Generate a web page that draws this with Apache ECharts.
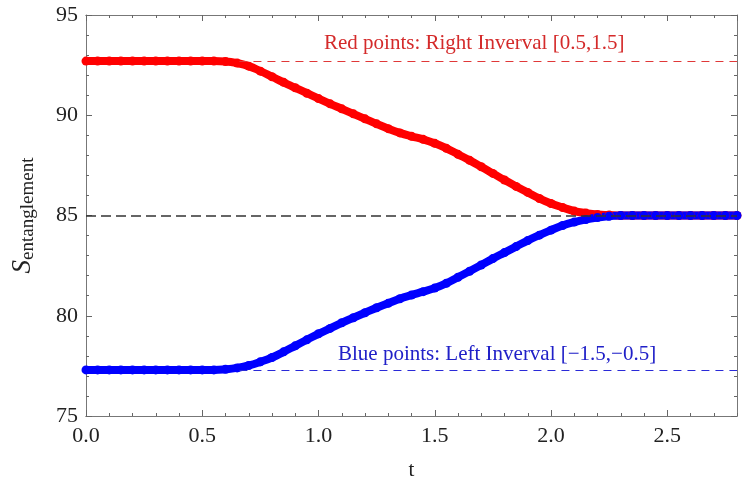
<!DOCTYPE html>
<html>
<head>
<meta charset="utf-8">
<script src="https://cdn.jsdelivr.net/npm/echarts@6/dist/echarts.min.js"></script>
<style>html,body{margin:0;padding:0;background:#fff}#c{width:744px;height:479px}</style>
</head>
<body>
<div id="c"></div>
<script>
const tValues = [0,0.05,0.1,0.15,0.2,0.25,0.3,0.35,0.4,0.45,0.5,0.55,0.6,0.65,0.7,0.75,0.8,0.85,0.9,0.95,
  1.0,1.05,1.1,1.15,1.2,1.25,1.3,1.35,1.4,1.45,1.5,1.55,1.6,1.65,1.7,1.75,1.8,1.85,1.9,1.95,
  2.0,2.05,2.1,2.15,2.2,2.25,2.3,2.35,2.4,2.45,2.5,2.55,2.6,2.65,2.7,2.75,2.8];
const redValues = [92.7,92.7,92.7,92.7,92.7,92.7,92.7,92.7,92.7,92.7,92.7,92.7,
  92.68,92.6,92.45,92.2,91.92,91.64,91.37,91.1,90.83,90.57,90.32,90.07,89.82,89.57,89.33,89.12,
  88.95,88.8,88.6,88.35,88.05,87.75,87.43,87.1,86.77,86.45,86.15,85.85,85.6,85.4,85.22,85.12,85.05,85.02,
  85,85,85,85,85,85,85,85,85,85,85];
const blueValues = [77.3,77.3,77.3,77.3,77.3,77.3,77.3,77.3,77.3,77.3,77.3,77.3,
  77.33,77.4,77.52,77.7,77.92,78.2,78.5,78.8,79.1,79.37,79.65,79.9,80.15,80.4,80.62,80.85,
  81.03,81.2,81.38,81.62,81.92,82.22,82.53,82.85,83.15,83.45,83.75,84.02,84.27,84.5,84.67,84.8,84.9,84.96,
  85,85,85,85,85,85,85,85,85,85,85];
const redRef = 92.7, blueRef = 77.3, midRef = 85;
const refStartT = 0.66, tMax = 2.8;
const redText = 'Red points: Right Inverval [0.5,1.5]';
const blueText = 'Blue points: Left Inverval [\u22121.5,\u22120.5]';

const serif = "'Liberation Serif','DejaVu Serif',serif";
const frameColor = '#777';
const tickColor = '#666';

const chart = echarts.init(document.getElementById('c'), null, {renderer: 'canvas'});
const grid = {left: 86, right: 7, top: 15, bottom: 63, containLabel: false, outerBoundsMode: 'none'};

function xAx(pos, interval, len, labels) {
  return {
    type: 'value', position: pos, min: 0, max: tMax, interval: interval,
    axisLine: {show: true, onZero: false, lineStyle: {color: frameColor, width: 1}},
    axisTick: {show: true, inside: true, length: len, lineStyle: {color: tickColor}},
    axisLabel: labels ? {show: true, showMaxLabel: false, color: '#222', fontFamily: serif, fontSize: 22, margin: 9,
      formatter: v => v.toFixed(1)} : {show: false},
    splitLine: {show: false},
    name: labels ? 't' : '', nameLocation: 'middle', nameGap: 44,
    nameTextStyle: {color: '#222', fontFamily: serif, fontSize: 21}
  };
}
function yAx(pos, labels) {
  return {
    type: 'value', position: pos, min: 75, max: 95, interval: 5,
    axisLine: {show: true, onZero: false, lineStyle: {color: frameColor, width: 1}},
    axisTick: {show: true, inside: true, length: 6, lineStyle: {color: tickColor}},
    minorTick: {show: true, splitNumber: 5, length: 3, lineStyle: {color: tickColor}},
    axisLabel: labels ? {show: true, color: '#222', fontFamily: serif, fontSize: 22, margin: 8} : {show: false},
    splitLine: {show: false},
    name: labels ? '{s|S}{sub|entanglement}' : '', nameLocation: 'middle', nameRotate: 90, nameGap: 48,
    nameTextStyle: {
      rich: {
        s: {fontFamily: serif, fontStyle: 'italic', fontSize: 27, color: '#222'},
        sub: {fontFamily: serif, fontSize: 19, color: '#222', padding: [12, 0, 0, 0]}
      }
    }
  };
}

function refSeries(name, y0, t0, color, width, dash) {
  return {
    type: 'line', name: name, xAxisIndex: 0, yAxisIndex: 0, data: [], z: 5,
    markLine: {
      silent: true, symbol: 'none', label: {show: false}, animation: false,
      lineStyle: {color: color, width: width, type: dash},
      data: [[{coord: [t0, y0]}, {coord: [tMax, y0]}]]
    }
  };
}

const sym = 9;
chart.setOption({
  animation: false,
  grid: grid,
  xAxis: [xAx('bottom', 0.5, 6, true), xAx('bottom', 0.1, 3, false), xAx('top', 0.5, 6, false), xAx('top', 0.1, 3, false)],
  yAxis: [yAx('left', true), yAx('right', false)],
  series: [
    {
      type: 'line', name: 'red', xAxisIndex: 0, yAxisIndex: 0,
      data: tValues.map((t, i) => [t, redValues[i]]),
      smooth: true, symbol: 'circle', symbolSize: sym, showSymbol: true,
      itemStyle: {color: '#ff0000'}, lineStyle: {color: '#ff0000', width: 8}, z: 3
    },
    {
      type: 'line', name: 'blue', xAxisIndex: 0, yAxisIndex: 0,
      data: tValues.map((t, i) => [t, blueValues[i]]),
      smooth: true, symbol: 'circle', symbolSize: sym, showSymbol: true,
      itemStyle: {color: '#0000ff'}, lineStyle: {color: '#0000ff', width: 8}, z: 3
    },
    refSeries('redRef', redRef, refStartT, '#e03838', 1, [8, 6]),
    refSeries('blueRef', blueRef, refStartT, '#2a2ad8', 1, [8, 6]),
    refSeries('midRef', midRef, 0, '#333', 1.5, [10, 5])
  ],
  graphic: [
    {type: 'text', left: 324, top: 33, style: {text: redText, fill: '#d42a2a', font: "21px 'Liberation Serif', serif"}},
    {type: 'text', left: 338, top: 344, style: {text: blueText, fill: '#2020c8', font: "21px 'Liberation Serif', serif"}}
  ]
});
</script>
</body>
</html>
